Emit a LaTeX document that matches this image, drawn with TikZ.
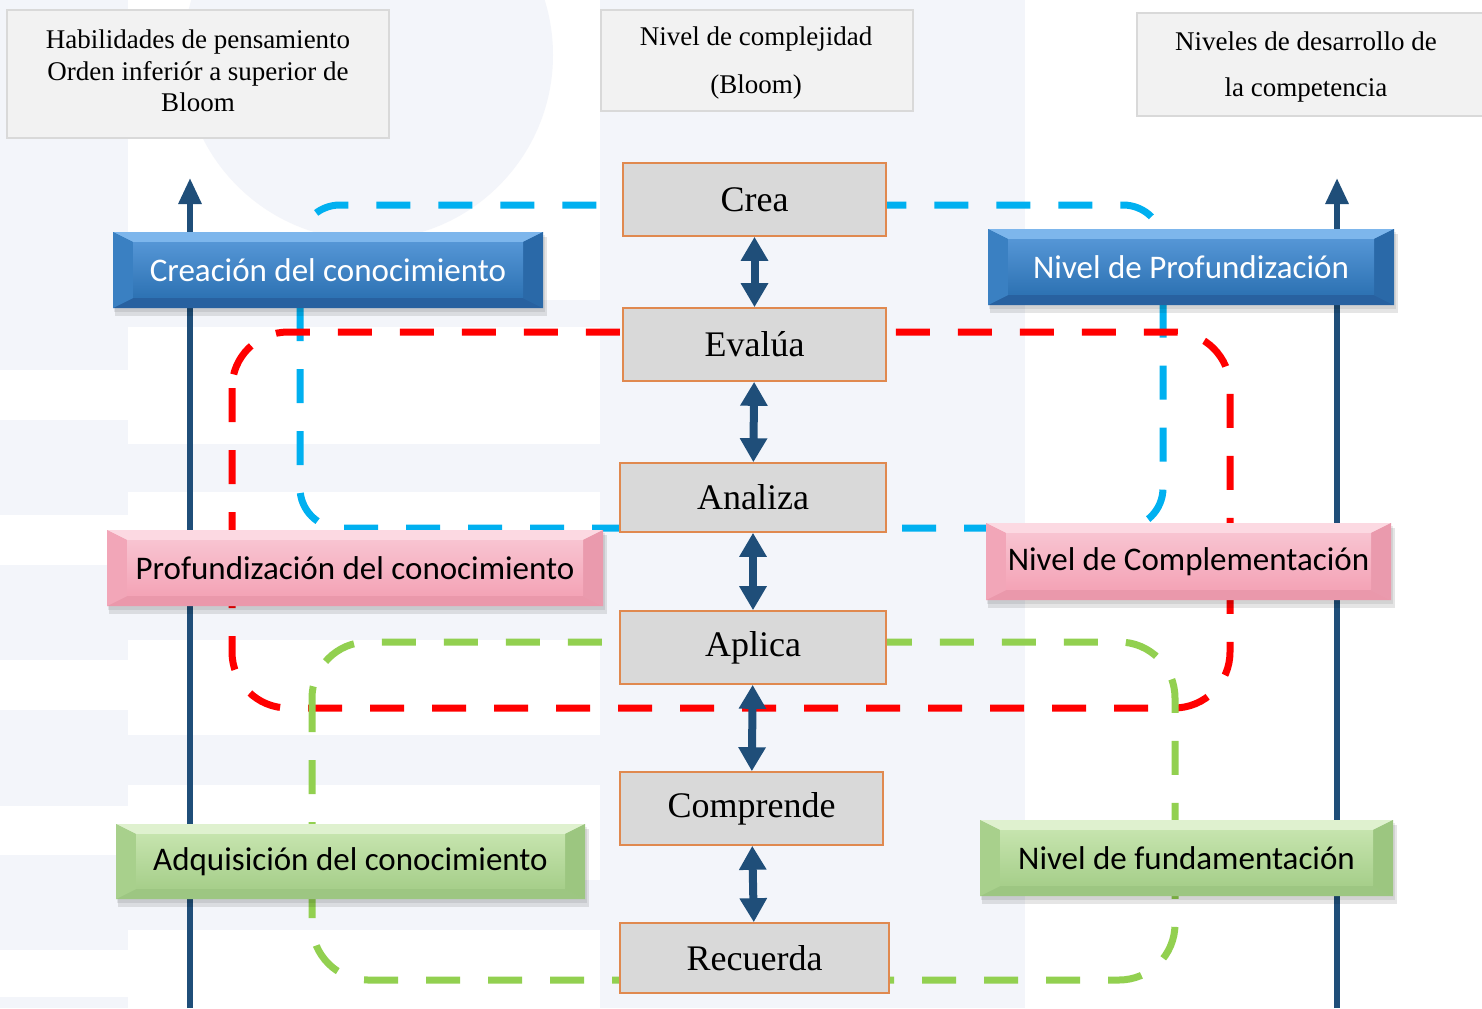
\documentclass[tikz,border=0pt]{standalone}
\usepackage{fontspec}
\setmainfont{Liberation Serif}
\newfontfamily\carl{Carlito}
\usetikzlibrary{arrows.meta,calc}
\definecolor{bgc}{HTML}{F3F5FA}
\definecolor{hdrfill}{HTML}{F2F2F2}
\definecolor{hdrline}{HTML}{D9D9D9}
\definecolor{cbfill}{HTML}{D9D9D9}
\definecolor{cbline}{HTML}{E0894F}
\definecolor{axisblue}{HTML}{1F4E79}
\definecolor{cyanl}{HTML}{00B0F0}
\definecolor{redl}{HTML}{FF0000}
\definecolor{greenl}{HTML}{92D050}
% blue bevel box
\definecolor{bbase}{HTML}{2E73B4}
\definecolor{btop}{HTML}{7DB6EC}
\definecolor{bitop}{HTML}{5596D6}
\definecolor{bleft}{HTML}{3A80C2}
\definecolor{bright}{HTML}{2A69A8}
\definecolor{bbot}{HTML}{2861A0}
% pink
\definecolor{pbase}{HTML}{F4A4B7}
\definecolor{ptop}{HTML}{FCD9E2}
\definecolor{pitop}{HTML}{F8C4D1}
\definecolor{pleft}{HTML}{F2A6B8}
\definecolor{pright}{HTML}{EA9AAD}
\definecolor{pbot}{HTML}{EA98AB}
% green
\definecolor{gbase}{HTML}{A7CF8B}
\definecolor{gtop}{HTML}{DFF1CF}
\definecolor{gitop}{HTML}{C6E4AE}
\definecolor{gleft}{HTML}{A8D08C}
\definecolor{gright}{HTML}{9CC680}
\definecolor{gbot}{HTML}{9DC682}
\tikzset{
  dashbox/.style={line width=3.5pt, dash pattern=on 17pt off 14pt},
  axisarrow/.style={draw=axisblue, line width=3pt, -{Triangle[width=11pt,length=13pt]}},
  dblarrow/.style={draw=axisblue, line width=4pt, {Triangle[width=13pt,length=12pt]}-{Triangle[width=13pt,length=12pt]}},
  hdrbox/.style={fill=hdrfill, draw=hdrline, line width=0.6pt},
  hdrtext/.style={align=center, inner sep=0pt, font=\fontsize{13.5}{#1}\selectfont},
  centerbox/.style={fill=cbfill, draw=cbline, line width=0.8pt, inner sep=0pt,
    font=\fontsize{18}{20}\selectfont},
  sidetext/.style={inner sep=0pt, font=\carl\fontsize{16.5}{18}\selectfont}
}
\newcommand{\mybevbox}[8]{%
  \fill[black,opacity=0.10] (#2+2,#3+5) rectangle (#4+4,#5+8);
  \fill[black,opacity=0.08] (#2+1,#3+3) rectangle (#4+2,#5+4);
  \fill[#6base] (#2,#3) rectangle (#4,#5);
  \fill[#6top] (#2,#3) -- (#4,#3) -- (#4-20,#3+10) -- (#2+20,#3+10) -- cycle;
  \fill[#6bot] (#2,#5) -- (#4,#5) -- (#4-20,#5-10) -- (#2+20,#5-10) -- cycle;
  \fill[#6left] (#2,#3) -- (#2+20,#3+10) -- (#2+20,#5-10) -- (#2,#5) -- cycle;
  \fill[#6right] (#4,#3) -- (#4-20,#3+10) -- (#4-20,#5-10) -- (#4,#5) -- cycle;
  \shade[top color=#6itop, bottom color=#6base] (#2+20,#3+10) rectangle (#4-20,#5-12);
  \node[sidetext, text=#7] (#1) at ({(#2+#4)/2},{(#3+#5)/2}) {#8};
}
\begin{document}
\begin{tikzpicture}[x=0.5pt,y=-0.5pt]
\useasboundingbox (0,0) rectangle (1482,1008);
\fill[white] (0,0) rectangle (1482,1008);
% background decoration
\fill[bgc] (600,0) rectangle (1025,1008);
\fill[bgc] (368,55) circle[radius=92.5pt];
\foreach \a/\b in {0/370,420/515,565/660,710/806,855/950,997/1008}
  \fill[bgc] (0,\a) rectangle (128,\b);
\foreach \a/\b in {300/327,444/492,590/640,735/785,880/930}
  \fill[bgc] (128,\a) rectangle (600,\b);
% dashed groupings
\draw[dashbox, cyanl, rounded corners=20pt] (300,205) rectangle (1163,528);
\draw[dashbox, redl, rounded corners=28pt] (232,332) rectangle (1230,708);
\draw[dashbox, greenl, rounded corners=28pt] (312,642) rectangle (1175,980);
% axes
\coordinate (axLb) at (190,1008);
\coordinate (axLt) at (190,178);
\coordinate (axRb) at (1337,1008);
\coordinate (axRt) at (1337,178);
\draw[axisarrow] (axLb) -- (axLt);
\draw[axisarrow] (axRb) -- (axRt);
% header boxes
\draw[hdrbox] (7,10) rectangle (389,138);
\node[hdrtext=15.75] (h1) at (198,71) {Habilidades de pensamiento\\Orden inferiór a superior de\\Bloom};
\draw[hdrbox] (601,10) rectangle (913,111);
\node[hdrtext=24] (h2) at (756,63) {Nivel de complejidad\\(Bloom)};
\draw[hdrbox] (1137,13) rectangle (1490,116);
\node[hdrtext=23] (h3) at (1306,67) {Niveles de desarrollo de\\la competencia};
% center boxes
\node[centerbox, minimum width=131.5pt, minimum height=36.5pt] (crea) at (754.5,199.5) {Crea};
\node[centerbox, minimum width=131.5pt, minimum height=36.5pt] (evalua) at (754.5,344.5) {Evalúa};
\node[centerbox, minimum width=133pt, minimum height=34.5pt] (analiza) at (753,497.5) {Analiza};
\node[centerbox, minimum width=133pt, minimum height=36.5pt] (aplica) at (753,647.5) {Aplica};
\node[centerbox, minimum width=131.5pt, minimum height=36.5pt] (comprende) at (751.5,808.5) {Comprende};
\node[centerbox, minimum width=134.5pt, minimum height=35pt] (recuerda) at (754.5,958) {Recuerda};
\draw[dblarrow] (crea) -- (evalua);
\draw[dblarrow] (evalua) -- (analiza);
\draw[dblarrow] (analiza) -- (aplica);
\draw[dblarrow] (aplica) -- (comprende);
\draw[dblarrow] (comprende) -- (recuerda);
% side boxes
\mybevbox{creacion}{113}{232}{543}{308}{b}{white}{Creación del conocimiento}
\mybevbox{profund}{988}{229}{1394}{305}{b}{white}{Nivel de Profundización}
\mybevbox{profcon}{107}{530}{603}{606}{p}{black}{Profundización del conocimiento}
\mybevbox{complem}{986}{523}{1391}{600}{p}{black}{Nivel de Complementación}
\mybevbox{adquis}{116}{824}{585}{899}{g}{black}{Adquisición del conocimiento}
\mybevbox{fundam}{980}{820}{1393}{896}{g}{black}{Nivel de fundamentación}
\end{tikzpicture}
\end{document}
